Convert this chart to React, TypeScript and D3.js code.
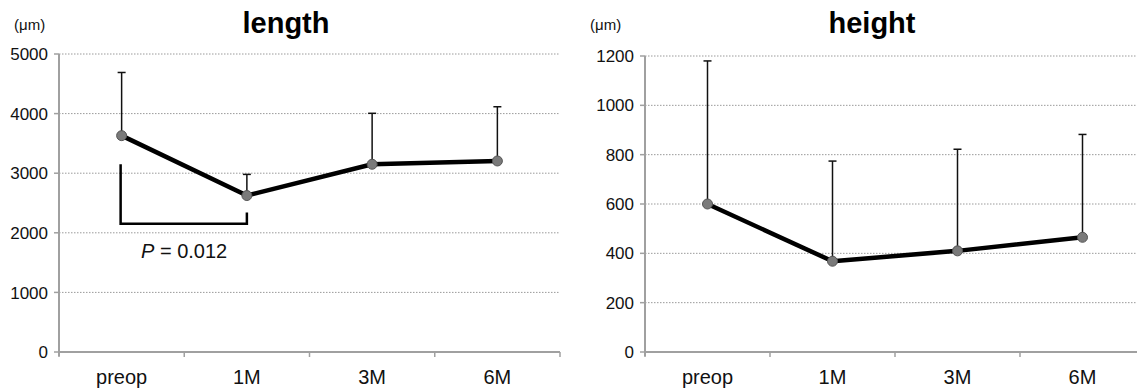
import * as React from 'react'
import { useEffect, useRef } from 'react'
import * as d3 from 'd3'

const categories = ['preop', '1M', '3M', '6M']

const lengthMean = [3630, 2625, 3150, 3205]
const lengthSdTop = [4690, 2980, 4005, 4115]
const lengthTicks = [0, 1000, 2000, 3000, 4000, 5000]

const heightMean = [600, 368, 410, 465]
const heightSdTop = [1180, 774, 822, 882]
const heightTicks = [0, 200, 400, 600, 800, 1000, 1200]

// significance bracket between preop and 1M (length panel)
const bracketLeftTop = 3150
const bracketRightTop = 2340
const bracketBottom = 2150
const pLabelValue = 1580

const W = 1137
const H = 391
const FONT = 'Liberation Sans, Arial, sans-serif'

interface PanelSpec {
  title: string
  left: number
  right: number
  top: number
  bottom: number
  max: number
  ticks: number[]
  mean: number[]
  sdTop: number[]
  titleX: number
  unitX: number
}

function drawPanel(svg: d3.Selection<SVGSVGElement, unknown, null, undefined>, p: PanelSpec) {
  const x = d3.scaleBand<string>().domain(categories).range([p.left, p.right]).padding(0)
  const y = d3.scaleLinear().domain([0, p.max]).range([p.bottom, p.top])
  const cx = (c: string) => (x(c) as number) + x.bandwidth() / 2

  const g = svg.append('g')

  // gridlines
  g.selectAll('line.grid')
    .data(p.ticks.filter(t => t > 0))
    .join('line')
    .attr('class', 'grid')
    .attr('x1', p.left)
    .attr('x2', Math.min(p.right, W))
    .attr('y1', d => y(d))
    .attr('y2', d => y(d))
    .attr('stroke', '#9a9a9a')
    .attr('stroke-width', 1)
    .attr('stroke-dasharray', '1.5,1.5')

  // y axis
  g.append('line')
    .attr('x1', p.left).attr('x2', p.left)
    .attr('y1', y(p.max)).attr('y2', p.bottom + 4)
    .attr('stroke', '#a0a0a0').attr('stroke-width', 2)

  g.selectAll('line.ytick')
    .data(p.ticks)
    .join('line')
    .attr('class', 'ytick')
    .attr('x1', p.left - 5).attr('x2', p.left)
    .attr('y1', d => y(d)).attr('y2', d => y(d))
    .attr('stroke', '#a0a0a0').attr('stroke-width', 1.5)

  g.selectAll('text.ylab')
    .data(p.ticks)
    .join('text')
    .attr('class', 'ylab')
    .attr('x', p.left - 11)
    .attr('y', d => y(d))
    .attr('dy', '0.36em')
    .attr('text-anchor', 'end')
    .attr('font-family', FONT)
    .attr('font-size', '17px')
    .attr('fill', '#111')
    .text(d => String(d))

  // x axis
  g.append('line')
    .attr('x1', p.left).attr('x2', p.right)
    .attr('y1', p.bottom).attr('y2', p.bottom)
    .attr('stroke', '#a0a0a0').attr('stroke-width', 2)

  const edges = categories.map(c => x(c) as number).concat([p.right])
  g.selectAll('line.xtick')
    .data(edges)
    .join('line')
    .attr('class', 'xtick')
    .attr('x1', d => d).attr('x2', d => d)
    .attr('y1', p.bottom).attr('y2', p.bottom + 5)
    .attr('stroke', '#a0a0a0').attr('stroke-width', 1.5)

  g.selectAll('text.xlab')
    .data(categories)
    .join('text')
    .attr('class', 'xlab')
    .attr('x', d => cx(d))
    .attr('y', 384)
    .attr('text-anchor', 'middle')
    .attr('font-family', FONT)
    .attr('font-size', '20px')
    .attr('fill', '#111')
    .text(d => d)

  // error bars (upper only)
  const bars = g.selectAll('g.err')
    .data(categories.map((c, i) => ({ c, m: p.mean[i], t: p.sdTop[i] })))
    .join('g')
    .attr('class', 'err')
  bars.append('line')
    .attr('x1', d => cx(d.c)).attr('x2', d => cx(d.c))
    .attr('y1', d => y(d.m)).attr('y2', d => y(d.t))
    .attr('stroke', '#111').attr('stroke-width', 1.5)
  bars.append('line')
    .attr('x1', d => cx(d.c) - 4).attr('x2', d => cx(d.c) + 4)
    .attr('y1', d => y(d.t)).attr('y2', d => y(d.t))
    .attr('stroke', '#111').attr('stroke-width', 1.5)

  // mean line
  const line = d3.line<number>()
    .x((_, i) => cx(categories[i]))
    .y(d => y(d))
  g.append('path')
    .attr('d', line(p.mean) as string)
    .attr('fill', 'none')
    .attr('stroke', '#000')
    .attr('stroke-width', 4.5)
    .attr('stroke-linejoin', 'round')

  g.selectAll('circle.pt')
    .data(p.mean)
    .join('circle')
    .attr('class', 'pt')
    .attr('cx', (_, i) => cx(categories[i]))
    .attr('cy', d => y(d))
    .attr('r', 5)
    .attr('fill', '#7a7a7a')
    .attr('stroke', '#555')
    .attr('stroke-width', 1)

  // titles
  g.append('text')
    .attr('x', p.titleX)
    .attr('y', 33)
    .attr('text-anchor', 'middle')
    .attr('font-family', FONT)
    .attr('font-weight', 'bold')
    .attr('font-size', '29px')
    .attr('fill', '#000')
    .text(p.title)

  g.append('text')
    .attr('x', p.unitX)
    .attr('y', 30)
    .attr('font-family', FONT)
    .attr('font-size', '15px')
    .attr('fill', '#111')
    .text('(μm)')

  return { x, y, cx, g }
}

export default function App() {
  const svgRef = useRef<SVGSVGElement>(null)

  useEffect(() => {
    if (!svgRef.current) return
    const svg = d3.select(svgRef.current)
    svg.selectAll('*').remove()

    const left = drawPanel(svg, {
      title: 'length',
      left: 59, right: 560, top: 54, bottom: 352,
      max: 5000, ticks: lengthTicks,
      mean: lengthMean, sdTop: lengthSdTop,
      titleX: 286, unitX: 14,
    })

    drawPanel(svg, {
      title: 'height',
      left: 645, right: 1145, top: 56, bottom: 352,
      max: 1200, ticks: heightTicks,
      mean: heightMean, sdTop: heightSdTop,
      titleX: 872, unitX: 590,
    })

    // significance bracket
    const bx1 = left.cx(categories[0]) - 1
    const bx2 = left.cx(categories[1])
    const by = left.y
    left.g.append('path')
      .attr('d', `M${bx1},${by(bracketLeftTop)}V${by(bracketBottom)}H${bx2}V${by(bracketRightTop)}`)
      .attr('fill', 'none')
      .attr('stroke', '#000')
      .attr('stroke-width', 2.5)

    const pText = left.g.append('text')
      .attr('x', 141)
      .attr('y', by(pLabelValue))
      .attr('font-family', FONT)
      .attr('font-size', '20px')
      .attr('fill', '#111')
    pText.append('tspan').attr('font-style', 'italic').text('P')
    pText.append('tspan').text(' = 0.012')
  }, [])

  return (
    <svg
      ref={svgRef}
      width={W}
      height={H}
      style={{ position: 'absolute', left: 0, top: 0, background: '#fff' }}
    />
  )
}
